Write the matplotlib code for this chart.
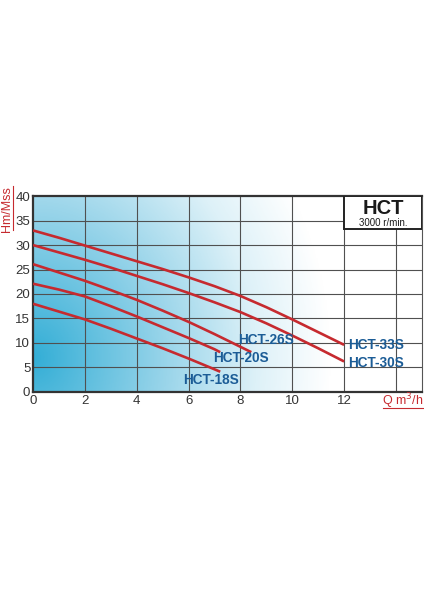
import numpy as np
import matplotlib
matplotlib.use('Agg')
import matplotlib.pyplot as plt
from matplotlib.colors import LinearSegmentedColormap
from matplotlib.patches import Rectangle

# flow Q (m3/h) and head H (m), one pair of lists per pump
q_33s = [0, 1, 2, 3, 4, 5, 6, 7, 8, 9, 10, 11, 12]
h_33s = [33.0, 31.5, 29.9, 28.3, 26.7, 25.1, 23.4, 21.6, 19.6, 17.3, 14.8, 12.2, 9.6]
q_30s = [0, 1, 2, 3, 4, 5, 6, 7, 8, 9, 10, 11, 12]
h_30s = [30.0, 28.5, 27.0, 25.4, 23.7, 22.0, 20.2, 18.3, 16.3, 14.0, 11.5, 8.9, 6.2]
q_26s = [0, 1, 2, 3, 4, 5, 6, 7, 8, 8.42]
h_26s = [26.1, 24.4, 22.7, 20.8, 18.8, 16.6, 14.3, 11.8, 9.2, 8.1]
q_20s = [0, 1, 2, 3, 4, 5, 6, 7, 7.22]
h_20s = [22.1, 20.9, 19.5, 17.5, 15.4, 13.2, 11.0, 8.7, 8.1]
q_18s = [0, 1, 2, 3, 4, 5, 6, 7, 7.22]
h_18s = [18.0, 16.4, 14.8, 12.9, 10.9, 8.9, 6.8, 4.6, 4.1]

names = ['HCT-33S', 'HCT-30S', 'HCT-26S', 'HCT-20S', 'HCT-18S']
curves = [(q_33s, h_33s), (q_30s, h_30s), (q_26s, h_26s), (q_20s, h_20s), (q_18s, h_18s)]
label_pos = [(12.15, 9.6), (12.15, 5.9), (7.9, 10.6), (6.95, 7.0), (5.8, 2.5)]

x_ticks = [0, 2, 4, 6, 8, 10, 12]
y_ticks = [0, 5, 10, 15, 20, 25, 30, 35, 40]

font = ['Liberation Sans', 'DejaVu Sans']
red = '#c62a2f'
blue = '#1b5c96'

fig = plt.figure(figsize=(4.24, 6.0), dpi=100)
ax = fig.add_axes([0.078, 0.347, 0.917, 0.326])
ax.set_xlim(0, 15)
ax.set_ylim(0, 40)

# blue-to-white background wash, strongest near the lower left
gx, gy = np.meshgrid(np.linspace(0, 15, 300), np.linspace(0, 40, 200))
d = np.sqrt((gx / 11.5) ** 2 + ((gy - 7) / 68.0) ** 2)
t = np.clip(1 - d, 0, 1)
cmap = LinearSegmentedColormap.from_list(
    'wash', [(0, '#ffffff'), (0.25, '#ddf1f8'), (0.55, '#9ad5ea'), (1, '#33aed6')])
ax.imshow(t, extent=[0, 15, 0, 40], origin='lower', aspect='auto',
          cmap=cmap, vmin=0, vmax=1, interpolation='bilinear', zorder=0)

for v in range(2, 15, 2):
    ax.axvline(v, color='#505050', lw=0.8, zorder=1)
for v in y_ticks[1:-1]:
    ax.axhline(v, color='#505050', lw=0.8, zorder=1)

for (q, h) in curves:
    ax.plot(q, h, color=red, lw=1.9, solid_capstyle='butt',
            solid_joinstyle='round', zorder=3)

for name, (lx, ly) in zip(names, label_pos):
    ax.text(lx, ly, name, color=blue, fontsize=9.8, fontweight='bold',
            family=font, ha='left', va='center', zorder=4)

# title box in the corner
ax.add_patch(Rectangle((12, 33.2), 3, 6.8, facecolor='white',
                       edgecolor='#222222', lw=1.4, zorder=5))
ax.text(13.5, 37.5, 'HCT', fontsize=14.5, fontweight='bold', family=font,
        ha='center', va='center', color='#1a1a1a', zorder=6)
ax.text(13.5, 34.6, '3000 r/min.', fontsize=7, family=font,
        ha='center', va='center', color='#1a1a1a', zorder=6)

ax.set_xticks(x_ticks)
ax.set_yticks(y_ticks)
ax.tick_params(length=0, labelsize=9.5, colors='#333333', pad=2)
for lab in ax.get_xticklabels() + ax.get_yticklabels():
    lab.set_family(font)

for side in ['left', 'bottom', 'top']:
    ax.spines[side].set_linewidth(1.6)
    ax.spines[side].set_color('#333333')
ax.spines['right'].set_linewidth(0.8)
ax.spines['right'].set_color('#555555')

# axis titles, red and underlined
fig.text(0.003, 0.69, 'Hm/Mss', rotation=90, color=red, fontsize=9,
         family=font, ha='left', va='top')
fig.add_artist(plt.Line2D([0.031, 0.031], [0.617, 0.69], color=red, lw=0.8))
fig.text(0.998, 0.331, 'Q m$^3$/h', color=red, fontsize=9,
         family=font, ha='right', va='center')
fig.add_artist(plt.Line2D([0.904, 0.998], [0.32, 0.32], color=red, lw=0.8))

fig.savefig('out.png', dpi=100)
